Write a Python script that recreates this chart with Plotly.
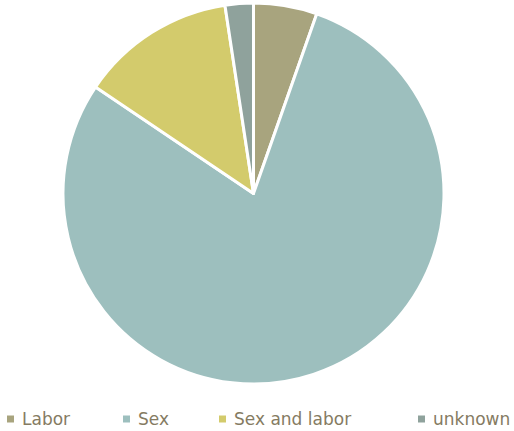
import plotly.graph_objects as go

labels = ["Labor", "Sex", "Sex and labor", "unknown"]
values = [9, 132, 22, 4]
colors = ["#A8A47E", "#9DBFBE", "#D3CB6C", "#8FA29C"]
legend_x_px = [7, 123, 219, 418]

W, H = 514, 431
fig = go.Figure(go.Pie(
    labels=labels, values=values, sort=False, direction="clockwise", rotation=0,
    marker=dict(colors=colors, line=dict(color="white", width=3)),
    textinfo="none", hoverinfo="label+value+percent", showlegend=False,
    domain=dict(x=[63/W, 444/W], y=[1-384/H, 1-3/H]),
))

text_color = "#857B62"
for lab, col, px in zip(labels, colors, legend_x_px):
    fig.add_shape(type="rect", xref="paper", yref="paper",
                  x0=px/W, x1=(px+7)/W, y0=1-422.5/H, y1=1-415.5/H,
                  fillcolor=col, line=dict(width=0))
    fig.add_annotation(xref="paper", yref="paper", x=(px+13)/W, y=1-419/H,
                       xanchor="left", yanchor="middle", showarrow=False,
                       text=lab, font=dict(family="DejaVu Sans", size=17, color=text_color))

fig.update_layout(
    width=W, height=H, margin=dict(l=0, r=0, t=0, b=0),
    paper_bgcolor="white", plot_bgcolor="white",
    font=dict(family="DejaVu Sans", size=17, color=text_color),
)
fig.write_html("out.html", config={"displayModeBar": False},
               post_script="document.body.style.margin='0';document.body.style.overflow='hidden';")
